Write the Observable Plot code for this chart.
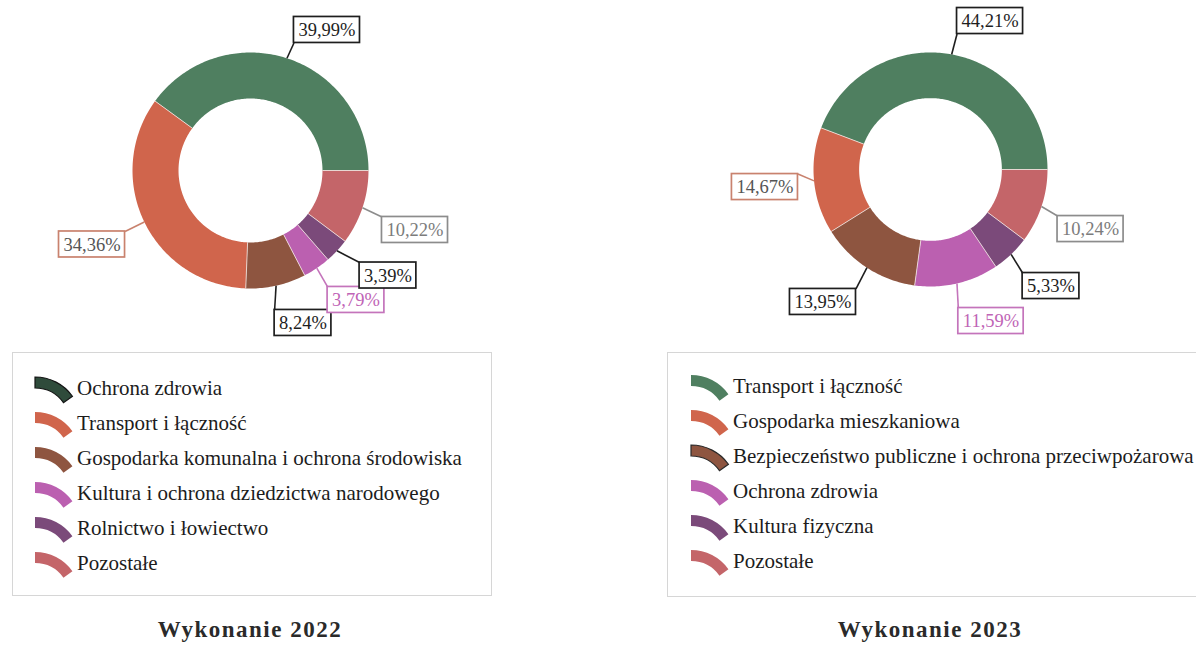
<!DOCTYPE html>
<html>
<head>
<meta charset="utf-8">
<script src="https://cdn.jsdelivr.net/npm/d3@7"></script>
<script src="https://cdn.jsdelivr.net/npm/@observablehq/plot@0.6"></script>
<style>
  html, body { margin: 0; padding: 0; background: #fff; }
  body { width: 1196px; height: 646px; overflow: hidden; position: relative; font-family: "Liberation Serif", "Times New Roman", serif; }
  .legend { position: absolute; border: 1.5px solid #d6d6d6; box-sizing: border-box; background: #fff; }
  .legend .item { position: absolute; font-size: 21px; color: #1c1c1c; white-space: nowrap; line-height: 24px; }
  .title { position: absolute; font-weight: bold; font-size: 23px; letter-spacing: 1.5px; color: #2a2a2a; text-align: center; width: 400px; }
</style>
</head>
<body>
<script>
// ---------- data ----------
const categories2022 = ["Ochrona zdrowia", "Transport i łączność", "Gospodarka komunalna i ochrona środowiska", "Kultura i ochrona dziedzictwa narodowego", "Rolnictwo i łowiectwo", "Pozostałe"];
const shares2022 = [39.99, 34.36, 8.24, 3.79, 3.39, 10.22];
const categories2023 = ["Transport i łączność", "Gospodarka mieszkaniowa", "Bezpieczeństwo publiczne i ochrona przeciwpożarowa", "Ochrona zdrowia", "Kultura fizyczna", "Pozostałe"];
const shares2023 = [44.21, 14.67, 13.95, 11.59, 5.33, 10.24];
const titles = ["Wykonanie 2022", "Wykonanie 2023"];

// ---------- styles ----------
const sliceColors = ["#4f7f60", "#d0654c", "#8e5540", "#bb60b0", "#7b4a7a", "#c46569"];
const labelBorder = ["#1e1e1e", "#c9826e", "#1e1e1e", "#c474bb", "#1e1e1e", "#8c8c8c"];
const labelText = ["#1e1e1e", "#555", "#1e1e1e", "#c064b6", "#1e1e1e", "#7c7c7c"];

// ---------- layout (label box centres, in units of the outer radius) ----------
const labelPos2022 = [[0.648, 1.191], [-1.343, -0.627], [0.445, -1.292], [0.894, -1.097], [1.165, -0.890], [1.394, -0.504]];
const labelPos2023 = [[0.509, 1.269], [-1.415, -0.150], [-0.919, -1.132], [0.517, -1.295], [1.030, -0.996], [1.368, -0.509]];

const panels = [
  {cats: categories2022, vals: shares2022, pos: labelPos2022, left: 0, cx: 250, cy: 170, r: 118,
   legend: {x: 12, y: 352, w: 480, h: 244, sw: 20, tx: 64, row0: 35, step: 35}, titleX: 250,
   swatchFill: ["#2f4b3b"], swatchStroke: ["#151515"]},
  {cats: categories2023, vals: shares2023, pos: labelPos2023, left: 598, cx: 332, cy: 169, r: 117,
   legend: {x: 667, y: 352, w: 560, h: 245, sw: 21, tx: 65, row0: 33, step: 35}, titleX: 930,
   swatchFill: [], swatchStroke: [null, null, "#2a2a2a"]}
];

const INNER = 0.61;
const LABEL_FONT = 18.5;
const ctx = document.createElement("canvas").getContext("2d");
ctx.font = `${LABEL_FONT}px "Liberation Serif"`;
const fmt = v => v.toFixed(2).replace(".", ",") + "%";

panels.forEach((p, pi) => {
  const total = d3.sum(p.vals);
  let cum = 0;
  const ring = [], bounds = [], labels = [], leaders = [];
  p.vals.forEach((v, i) => {
    const a0 = cum / total * 2 * Math.PI; cum += v;
    const a1 = cum / total * 2 * Math.PI;
    const n = Math.max(3, Math.ceil((a1 - a0) / (Math.PI / 180)));
    for (let k = 0; k <= n; k++) { const a = a0 + (a1 - a0) * k / n; ring.push({i, fill: sliceColors[i], x: Math.cos(a), y: Math.sin(a)}); }
    for (let k = n; k >= 0; k--) { const a = a0 + (a1 - a0) * k / n; ring.push({i, fill: sliceColors[i], x: INNER * Math.cos(a), y: INNER * Math.sin(a)}); }
    bounds.push({x1: INNER * Math.cos(a0), y1: INNER * Math.sin(a0), x2: Math.cos(a0), y2: Math.sin(a0)});
    const mid = (a0 + a1) / 2;
    const text = fmt(v);
    const hw = (ctx.measureText(text).width + 9) / 2 / p.r;
    const hh = 13 / p.r;
    const [bx, by] = p.pos[i];
    const box = {i, text, x: bx, y: by, x1: bx - hw, x2: bx + hw, y1: by - hh, y2: by + hh,
      stroke: labelBorder[i], color: labelText[i]};
    labels.push(box);
    const sx = Math.cos(mid), sy = Math.sin(mid);
    const corners = [[box.x1, box.y1], [box.x1, box.y2], [box.x2, box.y1], [box.x2, box.y2]];
    const c = d3.least(corners, q => (q[0] - sx) ** 2 + (q[1] - sy) ** 2);
    leaders.push({x1: sx, y1: sy, x2: c[0], y2: c[1], stroke: labelBorder[i]});
  });

  const svg = Plot.plot({
    width: 598, height: 345,
    x: {domain: [-1, 1], range: [p.cx - p.r, p.cx + p.r], axis: null},
    y: {domain: [-1, 1], range: [p.cy + p.r, p.cy - p.r], axis: null},
    color: {type: "identity"},
    style: {background: "transparent", overflow: "visible"},
    marks: [
      Plot.line(ring, {x: "x", y: "y", z: "i", fill: "fill", stroke: "none", curve: "linear"}),
      Plot.link(bounds, {x1: "x1", y1: "y1", x2: "x2", y2: "y2", stroke: "#f4e9e4", strokeWidth: 0.8}),
      Plot.link(leaders, {x1: "x1", y1: "y1", x2: "x2", y2: "y2", stroke: "stroke", strokeWidth: 1.6}),
      Plot.rect(labels, {x1: "x1", x2: "x2", y1: "y1", y2: "y2", fill: "white", stroke: "stroke", strokeWidth: 1.7}),
      Plot.text(labels, {x: "x", y: "y", text: "text", fill: "color", fontSize: LABEL_FONT, fontFamily: "Liberation Serif", dy: 0.5})
    ]
  });
  svg.style.position = "absolute";
  svg.style.left = p.left + "px";
  svg.style.top = "0px";
  document.body.appendChild(svg);

  // legend
  const L = p.legend;
  const lg = d3.select("body").append("div").attr("class", "legend")
    .style("left", L.x + "px").style("top", L.y + "px").style("width", L.w + "px").style("height", L.h + "px");
  const arc = d3.arc().innerRadius(35).outerRadius(46).startAngle(0).endAngle(0.95);
  p.cats.forEach((name, i) => {
    const yc = L.row0 + i * L.step;
    const s = lg.append("svg").attr("width", 42).attr("height", 30)
      .style("position", "absolute").style("left", L.sw + "px").style("top", (yc - 13) + "px");
    s.append("path").attr("d", arc).attr("transform", "translate(2,48)")
      .attr("fill", p.swatchFill[i] || sliceColors[i])
      .attr("stroke", p.swatchStroke[i] || "none").attr("stroke-width", 1.2);
    lg.append("div").attr("class", "item").style("left", L.tx + "px").style("top", (yc - 12) + "px").text(name);
  });

  d3.select("body").append("div").attr("class", "title")
    .style("left", (p.titleX - 200) + "px").style("top", "617px").text(titles[pi]);
});
</script>
</body>
</html>
